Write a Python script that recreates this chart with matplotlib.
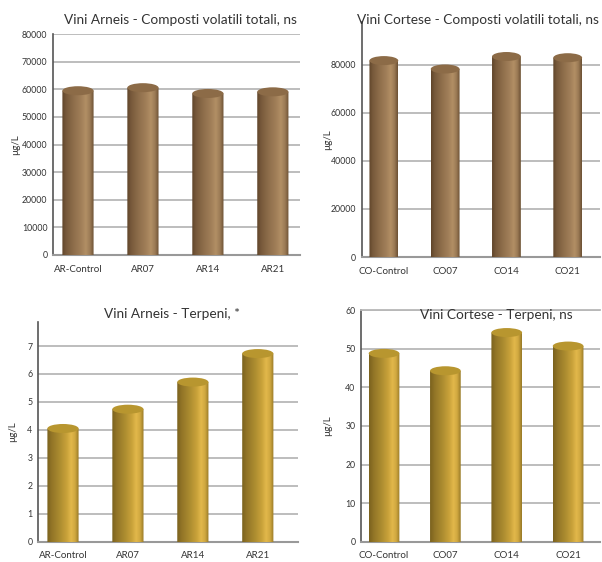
import numpy as np
import matplotlib
matplotlib.use("Agg")
import matplotlib.pyplot as plt
from matplotlib.colors import LinearSegmentedColormap
from matplotlib.patches import Ellipse, PathPatch
from matplotlib.path import Path

plt.rcParams['font.family'] = ['Lato', 'DejaVu Sans']

# dati (µg/L)
arneis_cat = ['AR-Control', 'AR07', 'AR14', 'AR21']
cortese_cat = ['CO-Control', 'CO07', 'CO14', 'CO21']
arneis_volatili = [59500, 60600, 58500, 59100]
cortese_volatili = [81800, 78300, 83500, 83000]
arneis_terpeni = [4.05, 4.74, 5.71, 6.73]
cortese_terpeni = [48.8, 44.3, 54.2, 50.7]

marrone = LinearSegmentedColormap.from_list('marrone', [
    (0.0, '#5e4429'), (0.12, '#76583a'), (0.35, '#8d6d4a'), (0.6, '#a17f59'),
    (0.75, '#b28f65'), (0.88, '#9b7a55'), (1.0, '#6a4f33')])
oro = LinearSegmentedColormap.from_list('oro', [
    (0.0, '#7a611e'), (0.15, '#927527'), (0.4, '#ac8c30'), (0.62, '#c9a23a'),
    (0.76, '#e2b84b'), (0.88, '#d0a840'), (1.0, '#967826')])


def cilindri(ax, fig, valori, cmap, colore_top, larghezza):
    barre = ax.bar(range(len(valori)), valori, width=larghezza, color='none', zorder=2)
    # altezza dell'ellisse in unità dati (circa 9 pixel)
    h_ax = ax.get_position().height * fig.get_figheight() * fig.dpi
    ymin, ymax = ax.get_ylim()
    ey = 9 * (ymax - ymin) / h_ax
    grad = np.linspace(0, 1, 256).reshape(1, -1)
    for b in barre:
        x, w, h = b.get_x(), b.get_width(), b.get_height()
        cx = x + w / 2
        t = np.linspace(np.pi, 2 * np.pi, 40)
        pts = [(cx + w / 2 * np.cos(a), ey / 2 * np.sin(a)) for a in t]
        pts += [(x + w, h), (x, h), pts[0]]
        clip = PathPatch(Path(pts), transform=ax.transData, facecolor='none', edgecolor='none')
        ax.add_patch(clip)
        im = ax.imshow(grad, cmap=cmap, aspect='auto', extent=[x, x + w, -ey / 2, h],
                       zorder=3, interpolation='bilinear')
        im.set_clip_path(clip)
        im.set_clip_box(None)
        ax.add_patch(Ellipse((cx, h), w, ey, facecolor=colore_top, edgecolor='none',
                             zorder=4, clip_on=False))
    ax.set_xlim(ax.get_xlim())


def stile(ax, categorie, ylim, yticks, xlim):
    ax.set_ylim(*ylim)
    ax.set_xlim(*xlim)
    ax.set_yticks(yticks)
    ax.set_xticks(range(len(categorie)))
    ax.set_xticklabels(categorie, fontsize=7, color='#333333')
    ax.tick_params(axis='y', labelsize=6.3, colors='#333333', length=0, pad=4)
    ax.tick_params(axis='x', length=0, pad=7)
    for s in ['top', 'right']:
        ax.spines[s].set_visible(False)
    ax.spines['left'].set_color('#555555')
    ax.spines['left'].set_linewidth(1.2)
    ax.spines['bottom'].set_color('#999999')
    ax.spines['bottom'].set_linewidth(1.5)
    ax.yaxis.grid(True, color='#b8b8b8', linewidth=1.3, zorder=0)
    ax.set_axisbelow(True)
    ax.set_ylabel('µg/L', fontsize=7, color='#333333')


fig = plt.figure(figsize=(6.02, 5.62), dpi=100)
fs_titolo = 9.8

ax1 = fig.add_axes([0.088, 0.5463, 0.410, 0.393])
stile(ax1, arneis_cat, (0, 80000), range(0, 80001, 10000), (-0.385, 3.415))
cilindri(ax1, fig, arneis_volatili, marrone, '#8c6b47', 0.48)
ax1.yaxis.set_label_coords(-0.135, 0.5)
fig.text(180 / 602, 1 - 20 / 562, 'Vini Arneis - Composti volatili totali, ns',
         ha='center', va='center', fontsize=fs_titolo, color='#333333')

ax2 = fig.add_axes([0.601, 0.5427, 0.395, 0.4187])
stile(ax2, cortese_cat, (0, 98000), range(0, 80001, 20000), (-0.36, 3.52))
cilindri(ax2, fig, cortese_volatili, marrone, '#8c6b47', 0.47)
ax2.yaxis.set_label_coords(-0.125, 0.5)
fig.text(599 / 602, 1 - 20 / 562, 'Vini Cortese - Composti volatili totali, ns',
         ha='right', va='center', fontsize=fs_titolo, color='#333333')

ax3 = fig.add_axes([0.0631, 0.0361, 0.432, 0.391])
stile(ax3, arneis_cat, (0, 7.86), range(0, 8), (-0.385, 3.62))
cilindri(ax3, fig, arneis_terpeni, oro, '#b8962f', 0.48)
ax3.yaxis.set_label_coords(-0.08, 0.5)
fig.text(172 / 602, 1 - 314 / 562, 'Vini Arneis - Terpeni, *',
         ha='center', va='center', fontsize=fs_titolo, color='#333333')

ax4 = fig.add_axes([0.5997, 0.0361, 0.397, 0.412])
stile(ax4, cortese_cat, (0, 60), range(0, 61, 10), (-0.375, 3.52))
cilindri(ax4, fig, cortese_terpeni, oro, '#b8962f', 0.5)
ax4.spines['top'].set_visible(True)
ax4.spines['top'].set_color('#b8b8b8')
ax4.spines['top'].set_linewidth(1.3)
ax4.yaxis.set_label_coords(-0.12, 0.5)
fig.text(496 / 602, 1 - 315 / 562, 'Vini Cortese - Terpeni, ns',
         ha='center', va='center', fontsize=fs_titolo, color='#333333')

fig.savefig('out.png', dpi=100, facecolor='white')
